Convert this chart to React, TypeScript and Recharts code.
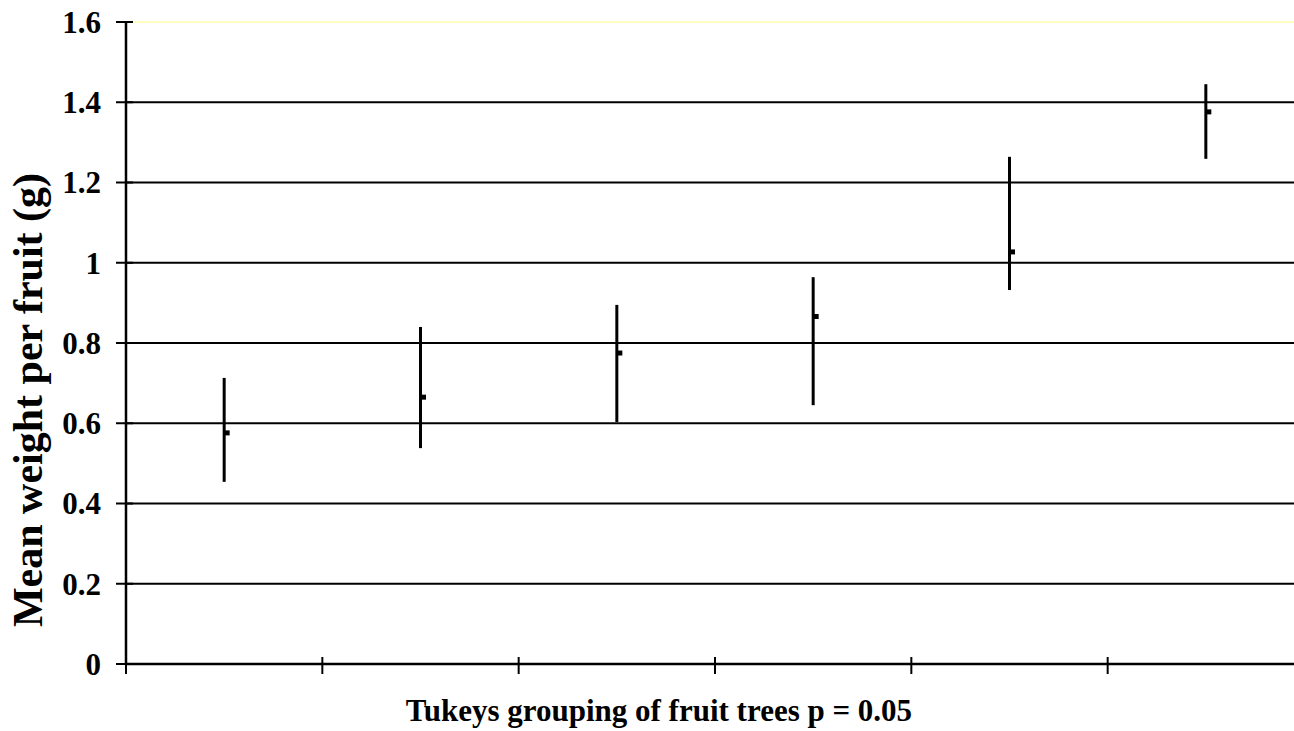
import {
  ComposedChart,
  Scatter,
  ErrorBar,
  XAxis,
  YAxis,
  ReferenceLine,
} from 'recharts';

const groups = ['A', 'B', 'C', 'D', 'E', 'F'];
const means = [0.576, 0.665, 0.775, 0.866, 1.027, 1.376];
const upper = [0.713, 0.84, 0.895, 0.964, 1.264, 1.445];
const lower = [0.454, 0.538, 0.603, 0.645, 0.932, 1.259];
const yTicks = [0, 0.2, 0.4, 0.6, 0.8, 1, 1.2, 1.4, 1.6];
const xTicks = [0, 1, 2, 3, 4, 5, 6];

const FONT = '"Liberation Serif", "Times New Roman", serif';

const data = groups.map((g, i) => ({
  group: g,
  pos: i + 0.5,
  mean: means[i],
  err: [means[i] - lower[i], upper[i] - means[i]],
}));

const XTick = ({ x, y }: { x?: number; y?: number }) => (
  <line x1={x} x2={x} y1={(y ?? 0) - 7} y2={(y ?? 0) + 10} stroke="#000" strokeWidth={2} />
);

const YTick = ({ x, y, payload }: { x?: number; y?: number; payload?: { value: number } }) => (
  <g>
    <line x1={(x ?? 0) - 10} x2={(x ?? 0) + 7} y1={y} y2={y} stroke="#000" strokeWidth={2} />
    <text
      x={(x ?? 0) - 25}
      y={y}
      dy="0.35em"
      textAnchor="end"
      fontFamily={FONT}
      fontWeight="bold"
      fontSize={31}
      fill="#000"
    >
      {String(payload?.value)}
    </text>
  </g>
);

const MeanMark = ({ cx, cy }: { cx?: number; cy?: number }) => (
  <rect x={cx} y={(cy ?? 0) - 2.5} width={5.5} height={5} fill="#000" />
);

const XLabel = ({ viewBox }: { viewBox?: { x: number; y: number; width: number; height: number } }) => {
  if (!viewBox) return null;
  return (
    <text
      x={viewBox.x + viewBox.width / 2 - 56}
      y={viewBox.y + 57}
      textAnchor="middle"
      fontFamily={FONT}
      fontWeight="bold"
      fontSize={31}
      fill="#000"
    >
      Tukeys grouping of fruit trees p = 0.05
    </text>
  );
};

const YLabel = ({ viewBox }: { viewBox?: { x: number; y: number; width: number; height: number } }) => {
  if (!viewBox) return null;
  const cx = 42;
  const cy = viewBox.y + viewBox.height / 2 + 57;
  return (
    <text
      x={cx}
      y={cy}
      transform={`rotate(-90, ${cx}, ${cy})`}
      textAnchor="middle"
      fontFamily={FONT}
      fontWeight="bold"
      fontSize={42}
      fill="#000"
    >
      Mean weight per fruit (g)
    </text>
  );
};

export default function App() {
  return (
    <div
      style={{
        position: 'absolute',
        left: 0,
        top: 0,
        width: 1294,
        height: 731,
        overflow: 'hidden',
        background: '#fff',
      }}
    >
      <ComposedChart
        width={1324}
        height={731}
        data={data}
        margin={{ top: 22, right: 20, bottom: 0, left: 0 }}
      >
        {yTicks
          .filter((v) => v > 0)
          .map((v) => (
            <ReferenceLine
              key={v}
              y={v}
              stroke={v === 1.6 ? '#ffffc0' : '#000'}
              strokeWidth={2}
            />
          ))}
        <XAxis
          type="number"
          dataKey="pos"
          domain={[0, 6]}
          ticks={xTicks}
          height={67}
          axisLine={{ stroke: '#000', strokeWidth: 2.5 }}
          tickLine={false}
          tickSize={0}
          tickMargin={0}
          tick={<XTick />}
          label={<XLabel />}
        />
        <YAxis
          type="number"
          domain={[0, 1.6]}
          ticks={yTicks}
          width={126}
          axisLine={{ stroke: '#000', strokeWidth: 2.5 }}
          tickLine={false}
          tickSize={0}
          tickMargin={0}
          tick={<YTick />}
          label={<YLabel />}
        />
        <Scatter dataKey="mean" shape={<MeanMark />} isAnimationActive={false}>
          <ErrorBar dataKey="err" direction="y" width={0} stroke="#000" strokeWidth={3} />
        </Scatter>
      </ComposedChart>
    </div>
  );
}
